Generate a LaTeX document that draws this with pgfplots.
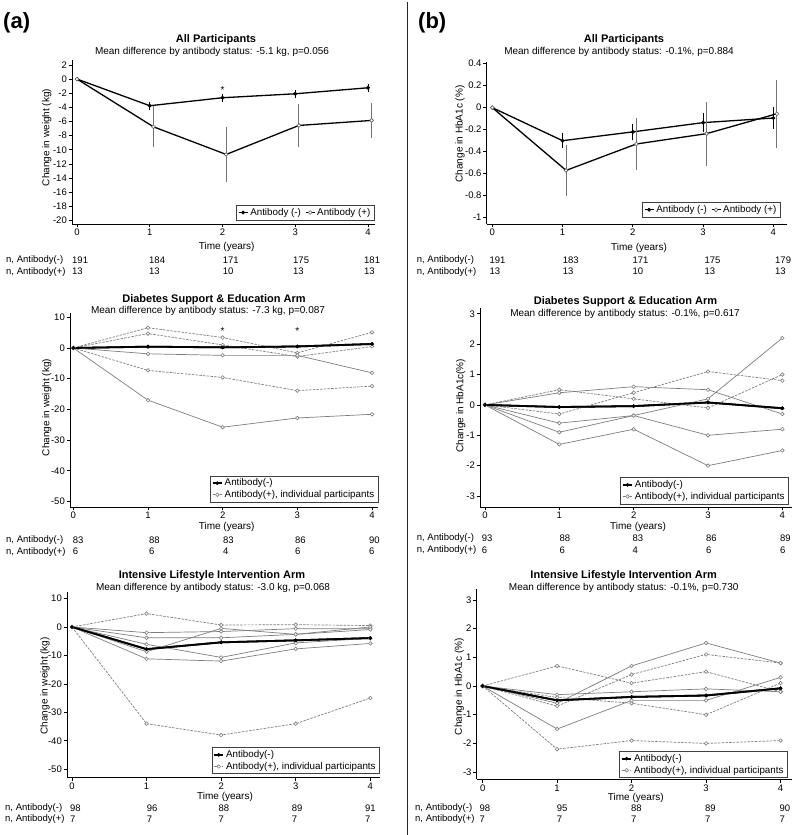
\documentclass[border=0pt]{standalone}
\usepackage{fontspec}
\setmainfont{Liberation Sans}
\usepackage{pgfplots}
\pgfplotsset{compat=1.18}
\definecolor{pgray}{RGB}{125,125,125}
\definecolor{egray}{RGB}{115,115,115}
\pgfplotsset{
 panel/.style={
   scale only axis, anchor=south west, clip=false,
   axis x line*=bottom, axis y line*=left,
   axis line style={black, line width=0.9pt, -},
   every tick/.style={black, line width=0.7pt},
   major tick length=3.5pt, tick align=outside,
   xtick={0,1,2,3,4}, xticklabels={0,1,2,3,4},
   ticklabel style={font=\fontsize{9.5}{11}\selectfont, inner sep=1.5pt},
   legend cell align=left,
   legend style={draw=black!75, line width=0.5pt, fill=white, font=\fontsize{9.8}{11}\selectfont, inner xsep=1.5pt, inner ysep=1pt, row sep=-1pt, /tikz/every even column/.append style={column sep=2pt}},
   legend image code/.code={\draw[mark repeat=2,mark phase=2,##1] plot coordinates {(0pt,0pt) (4.5pt,0pt) (9pt,0pt)};},
 },
 negt/.style={black, line width=1.3pt, mark=*, mark size=1.7pt, mark options={solid, fill=black, line width=0.5pt}},
 post/.style={black, line width=1.3pt, mark=*, mark size=1.9pt, mark options={solid, fill=white, draw=black!65, line width=0.6pt}},
 negb/.style={black, line width=1.8pt, mark=*, mark size=1.6pt, mark options={solid, fill=black, line width=0.5pt}},
 ind/.style={pgray, line width=0.7pt, mark=*, mark size=1.8pt, mark options={solid, fill=white, draw=pgray, line width=0.6pt}},
 indd/.style={ind, dash pattern=on 2.5pt off 1.2pt},
}
\begin{document}
\begin{tikzpicture}
\useasboundingbox (0pt,0pt) rectangle (800pt,835pt);
\draw[line width=1pt, black!85] (407.5pt,0pt) -- (407.5pt,833pt);

% ---------------- (a) top
\begin{axis}[panel, at={(72pt,611pt)}, width=303pt, height=164pt,
  xmin=-0.069, xmax=4.096, ymin=-20.5, ymax=2.7,
  ytick={-20,-18,...,2}, yticklabels={-20,-18,-16,-14,-12,-10,-8,-6,-4,-2,0,2},
  legend columns=2, legend style={at={(0.997,0.024)}, anchor=south east}]
\addplot[negt, error bars/.cd, y dir=both, y explicit, error mark=none, error bar style={black, line width=0.9pt}]
 coordinates {(0,0) +- (0,0) (1,-3.77) +- (0,0.55) (2,-2.64) +- (0,0.55) (3,-2.08) +- (0,0.55) (4,-1.23) +- (0,0.55)};
\addlegendentry{Antibody (-)}
\addplot[post, error bars/.cd, y dir=both, y explicit, error mark=none, error bar style={egray, line width=1pt}]
 coordinates {(0,0) +- (0,0) (1.05,-6.75) +- (0,2.9) (2.05,-10.66) +- (0,3.9) (3.05,-6.56) +- (0,3.1) (4.05,-5.85) +- (0,2.5)};
\addlegendentry{Antibody (+)}
\node[font=\fontsize{10}{10}\selectfont, inner sep=0pt] at (axis cs:2,-1.5) {*};
\end{axis}

% ---------------- (b) top
\begin{axis}[panel, at={(486.7pt,611pt)}, width=300pt, height=162pt,
  xmin=-0.08, xmax=4.19, ymin=-1.057, ymax=0.415,
  ytick={-1,-0.8,-0.6,-0.4,-0.2,0,0.2,0.4}, yticklabels={-1,-0.8,-0.6,-0.4,-0.2,0,0.2,0.4},
  legend columns=2, legend style={at={(0.978,0.041)}, anchor=south east}]
\addplot[negt, error bars/.cd, y dir=both, y explicit, error mark=none, error bar style={black, line width=0.9pt}]
 coordinates {(0,0) +- (0,0) (1,-0.30) +- (0,0.07) (2,-0.22) +- (0,0.075) (3,-0.136) +- (0,0.085) (4,-0.094) +- (0,0.10)};
\addlegendentry{Antibody (-)}
\addplot[post, error bars/.cd, y dir=both, y explicit, error mark=none, error bar style={egray, line width=1pt}]
 coordinates {(0,0) +- (0,0) (1.05,-0.57) +- (0,0.23) (2.05,-0.33) +- (0,0.24) (3.05,-0.236) +- (0,0.29) (4.05,-0.055) +- (0,0.31)};
\addlegendentry{Antibody (+)}
\end{axis}

% ---------------- (a) middle
\begin{axis}[panel, at={(70pt,328pt)}, width=308pt, height=194pt,
  xmin=-0.044, xmax=4.08, ymin=-51.8, ymax=11.4,
  ytick={-50,-40,...,10}, yticklabels={-50,-40,-30,-20,-10,0,10},
  legend style={at={(1.0,0.024)}, anchor=south east}]
\addplot[negb] coordinates {(0,0) (1,0.43) (2,0.2) (3,0.5) (4,1.3)};
\addlegendentry{Antibody(-)}
\addplot[indd] coordinates {(0,0) (1,6.6) (2,3.4) (3,-1.6) (4,5.1)};
\addlegendentry{Antibody(+), individual participants}
\addplot[indd, forget plot] coordinates {(0,0) (1,4.7) (2,1.0) (3,-2.8) (4,0.5)};
\addplot[ind, forget plot] coordinates {(0,0) (1,-1.9) (2,-2.4) (3,-2.4) (4,-8.1)};
\addplot[indd, forget plot] coordinates {(0,0) (1,-7.3) (2,-9.6) (3,-13.9) (4,-12.4)};
\addplot[ind, forget plot] coordinates {(0,0) (1,-17.0) (2,-25.8) (3,-22.8) (4,-21.6)};
\addplot[negb, forget plot] coordinates {(0,0) (1,0.43) (2,0.2) (3,0.5) (4,1.3)};
\node[font=\fontsize{10}{10}\selectfont, inner sep=0pt] at (axis cs:2,5.5) {*};
\node[font=\fontsize{10}{10}\selectfont, inner sep=0pt] at (axis cs:3,5.5) {*};
\end{axis}

% ---------------- (b) middle
\begin{axis}[panel, at={(480pt,328pt)}, width=312pt, height=199pt,
  xmin=-0.067, xmax=4.13, ymin=-3.36, ymax=3.19,
  ytick={-3,-2,...,3}, yticklabels={-3,-2,-1,0,1,2,3},
  legend style={at={(0.988,0.015)}, anchor=south east}]
\addplot[negb] coordinates {(0,0) (1,-0.07) (2,-0.04) (3,0.08) (4,-0.11)};
\addlegendentry{Antibody(-)}
\addplot[indd] coordinates {(0,0) (1,0.5) (2,0.2) (3,-0.1) (4,1.0)};
\addlegendentry{Antibody(+), individual participants}
\addplot[ind, forget plot] coordinates {(0,0) (1,0.4) (2,0.6) (3,0.5) (4,-0.3)};
\addplot[indd, forget plot] coordinates {(0,0) (1,-0.3) (2,0.4) (3,1.1) (4,0.8)};
\addplot[ind, forget plot] coordinates {(0,0) (1,-0.6) (2,-0.35) (3,0.2) (4,2.2)};
\addplot[ind, forget plot] coordinates {(0,0) (1,-0.9) (2,-0.35) (3,-1.0) (4,-0.8)};
\addplot[ind, forget plot] coordinates {(0,0) (1,-1.3) (2,-0.8) (3,-2.0) (4,-1.5)};
\addplot[negb, forget plot] coordinates {(0,0) (1,-0.07) (2,-0.04) (3,0.08) (4,-0.11)};
\end{axis}

% ---------------- (a) bottom
\begin{axis}[panel, at={(67pt,57.3pt)}, width=313pt, height=185.7pt,
  xmin=-0.067, xmax=4.13, ymin=-53, ymax=12.3,
  ytick={-50,-40,...,10}, yticklabels={-50,-40,-30,-20,-10,0,10},
  legend style={at={(0.998,0.02)}, anchor=south east}]
\addplot[negb] coordinates {(0,0) (1,-7.8) (2,-5.4) (3,-4.7) (4,-3.9)};
\addlegendentry{Antibody(-)}
\addplot[indd] coordinates {(0,0) (1,4.7) (2,0.7) (3,0.8) (4,0.5)};
\addlegendentry{Antibody(+), individual participants}
\addplot[ind, forget plot] coordinates {(0,0) (1,-2.0) (2,-1.6) (3,-0.6) (4,-0.6)};
\addplot[ind, forget plot] coordinates {(0,0) (1,-8.7) (2,-0.5) (3,-2.6) (4,0.0)};
\addplot[ind, forget plot] coordinates {(0,0) (1,-11.2) (2,-12.0) (3,-7.7) (4,-5.8)};
\addplot[ind, forget plot] coordinates {(0,0) (1,-6.1) (2,-10.7) (3,-5.6) (4,-4.0)};
\addplot[indd, forget plot] coordinates {(0,0) (1,-34.0) (2,-38.0) (3,-34.0) (4,-25.0)};
\addplot[ind, forget plot] coordinates {(0,0) (1,-3.8) (2,-3.8) (3,-2.6) (4,-0.9)};
\addplot[negb, forget plot] coordinates {(0,0) (1,-7.8) (2,-5.4) (3,-4.7) (4,-3.9)};
\end{axis}

% ---------------- (b) bottom
\begin{axis}[panel, at={(476.7pt,55.7pt)}, width=315pt, height=190.3pt,
  xmin=-0.08, xmax=4.15, ymin=-3.25, ymax=3.38,
  ytick={-3,-2,...,3}, yticklabels={-3,-2,-1,0,1,2,3},
  legend style={at={(0.986,0.008)}, anchor=south east}]
\addplot[negb] coordinates {(0,0) (1,-0.5) (2,-0.38) (3,-0.33) (4,-0.08)};
\addlegendentry{Antibody(-)}
\addplot[indd] coordinates {(0,0) (1,0.7) (2,0.1) (3,0.5) (4,-0.2)};
\addlegendentry{Antibody(+), individual participants}
\addplot[ind, forget plot] coordinates {(0,0) (1,-0.6) (2,0.7) (3,1.5) (4,0.8)};
\addplot[indd, forget plot] coordinates {(0,0) (1,-0.7) (2,0.4) (3,1.1) (4,0.8)};
\addplot[ind, forget plot] coordinates {(0,0) (1,-0.3) (2,-0.2) (3,-0.1) (4,-0.2)};
\addplot[indd, forget plot] coordinates {(0,0) (1,-0.4) (2,-0.6) (3,-1.0) (4,0.1)};
\addplot[ind, forget plot] coordinates {(0,0) (1,-1.5) (2,-0.5) (3,-0.5) (4,0.3)};
\addplot[indd, forget plot] coordinates {(0,0) (1,-2.2) (2,-1.9) (3,-2.0) (4,-1.9)};
\addplot[negb, forget plot] coordinates {(0,0) (1,-0.5) (2,-0.38) (3,-0.33) (4,-0.08)};
\end{axis}

% ---------------- texts
\node[anchor=west, font=\fontsize{22}{24}\selectfont\bfseries, inner sep=0pt] at (3pt,812pt) {(a)};
\node[anchor=west, font=\fontsize{22}{24}\selectfont\bfseries, inner sep=0pt] at (418pt,812pt) {(b)};

\tikzset{ttl/.style={font=\fontsize{11}{12}\selectfont\bfseries, inner sep=0pt},
         sub/.style={font=\fontsize{10}{12}\selectfont, inner sep=0pt},
         lab/.style={font=\fontsize{10}{12}\selectfont, inner sep=0pt},
         nn/.style={font=\fontsize{9.5}{11}\selectfont, inner sep=0pt, anchor=west}}

\node[ttl] at (216pt,795pt) {All Participants};
\node[sub] at (212pt,783pt) {Mean difference by antibody status: -5.1 kg, p=0.056};
\node[ttl] at (624pt,795pt) {All Participants};
\node[sub] at (619pt,783pt) {Mean difference by antibody status: -0.1\%, p=0.884};
\node[ttl] at (214pt,535.5pt) {Diabetes Support \& Education Arm};
\node[sub] at (208pt,524pt) {Mean difference by antibody status: -7.3 kg, p=0.087};
\node[ttl] at (625.5pt,533.5pt) {Diabetes Support \& Education Arm};
\node[sub] at (625pt,521pt) {Mean difference by antibody status: -0.1\%, p=0.617};
\node[ttl] at (212pt,259pt) {Intensive Lifestyle Intervention Arm};
\node[sub] at (213pt,247.3pt) {Mean difference by antibody status: -3.0 kg, p=0.068};
\node[ttl] at (623.7pt,259pt) {Intensive Lifestyle Intervention Arm};
\node[sub] at (623.7pt,247.3pt) {Mean difference by antibody status: -0.1\%, p=0.730};

\node[lab] at (226.7pt,588pt) {Time (years)};
\node[lab] at (639pt,587pt) {Time (years)};
\node[lab] at (226.7pt,307.7pt) {Time (years)};
\node[lab] at (638pt,308.3pt) {Time (years)};
\node[lab] at (225pt,38.3pt) {Time (years)};
\node[lab] at (635.8pt,36.7pt) {Time (years)};

\node[lab, rotate=90] at (46.7pt,697.5pt) {Change in weight (kg)};
\node[lab, rotate=90] at (460pt,701pt) {Change in HbA1c (\%)};
\node[lab, rotate=90] at (46.7pt,427.5pt) {Change in weight (kg)};
\node[lab, rotate=90] at (460.7pt,429.2pt) {Change in HbA1c(\%)};
\node[lab, rotate=90] at (45pt,149.2pt) {Change in weight (kg)};
\node[lab, rotate=90] at (459.3pt,148.3pt) {Change in HbA1c (\%)};

% n rows
\node[nn] at (6pt,575pt) {n, Antibody(-)};
\node[nn] at (6pt,563.3pt) {n, Antibody(+)};
\foreach \x/\a/\b in {72/191/13, 149/184/13, 222.7/171/10, 293/175/13, 364/181/13}
 {\node[nn] at (\x pt,575pt) {\a}; \node[nn] at (\x pt,563.3pt) {\b};}
\node[nn] at (416.7pt,575pt) {n, Antibody(-)};
\node[nn] at (416.7pt,563.3pt) {n, Antibody(+)};
\foreach \x/\a/\b in {489.3/191/13, 562.7/183/13, 632.3/171/10, 704.3/175/13, 775/179/13}
 {\node[nn] at (\x pt,575pt) {\a}; \node[nn] at (\x pt,563.3pt) {\b};}

\node[nn] at (6pt,295pt) {n, Antibody(-)};
\node[nn] at (6pt,283.3pt) {n, Antibody(+)};
\foreach \x/\a/\b in {72.7/83/6, 149/88/6, 223/83/4, 295/86/6, 369/90/6}
 {\node[nn] at (\x pt,295pt) {\a}; \node[nn] at (\x pt,283.3pt) {\b};}
\node[nn] at (416.7pt,296.7pt) {n, Antibody(-)};
\node[nn] at (416.7pt,285pt) {n, Antibody(+)};
\foreach \x/\a/\b in {481.7/93/6, 559.3/88/6, 632.3/83/4, 706/86/6, 780/89/6}
 {\node[nn] at (\x pt,296.7pt) {\a}; \node[nn] at (\x pt,285pt) {\b};}

\node[nn] at (5pt,26.7pt) {n, Antibody(-)};
\node[nn] at (5pt,15.7pt) {n, Antibody(+)};
\foreach \x/\a/\b in {70/98/7, 146.7/96/7, 218.3/88/7, 291.7/89/7, 365/91/7}
 {\node[nn] at (\x pt,26.7pt) {\a}; \node[nn] at (\x pt,15.7pt) {\b};}
\node[nn] at (415pt,26.7pt) {n, Antibody(-)};
\node[nn] at (415pt,15.7pt) {n, Antibody(+)};
\foreach \x/\a/\b in {479.3/98/7, 556.7/95/7, 631/88/7, 705/89/7, 779.3/90/7}
 {\node[nn] at (\x pt,26.7pt) {\a}; \node[nn] at (\x pt,15.7pt) {\b};}
\end{tikzpicture}
\end{document}
